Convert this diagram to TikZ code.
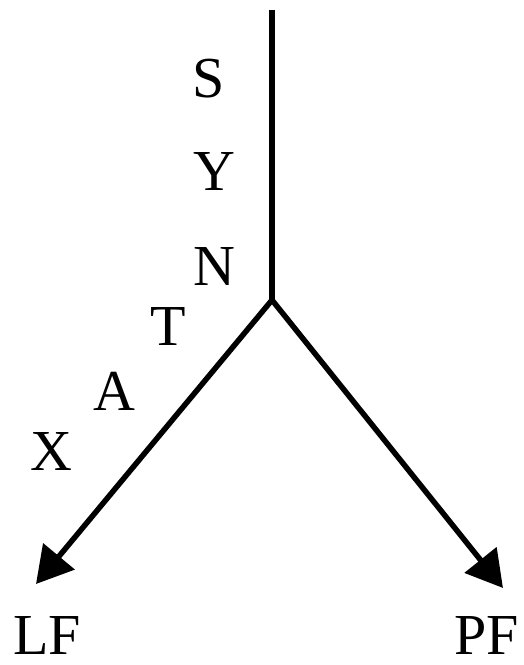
\documentclass[tikz,border=0pt]{standalone}
\usepackage{fontspec}
\setmainfont{Liberation Serif}
\usetikzlibrary{arrows.meta, positioning}
\tikzset{
	branch/.style   ={line width=5.5pt},
	brancharrow/.style={line width=5.5pt, -{Triangle[length=36pt, width=40pt]}},
	letter/.style   ={inner sep=0pt, font=\fontsize{58}{60}\selectfont},
}

\begin{document}
\begin{tikzpicture}[x=1pt, y=-1pt]
	\useasboundingbox (0,0) rectangle (523,665);
	% the trunk and the fork
	\coordinate (top)  at (272,10);
	\coordinate (fork) at (272,300);
	\coordinate (lfend) at (36,584);
	\coordinate (pfend) at (503,588);
	\draw[branch] (top) -- (fork);
	\draw[brancharrow] (fork) -- (lfend);
	\draw[brancharrow] (fork) -- (pfend);
	% letters along the left
	\node[letter] (s) at (209,79)  {S};
	\node[letter] (y) at (214,172) {Y};
	\node[letter] (n) at (214,267) {N};
	\node[letter] (t) at (168,327) {T};
	\node[letter] (a) at (114,391) {A};
	\node[letter] (x) at (51,452)  {X};
	% the two interfaces
	\node[letter] (lf) at (47,636)  {LF};
	\node[letter] (pf) at (487,636) {PF};
\end{tikzpicture}
\end{document}
